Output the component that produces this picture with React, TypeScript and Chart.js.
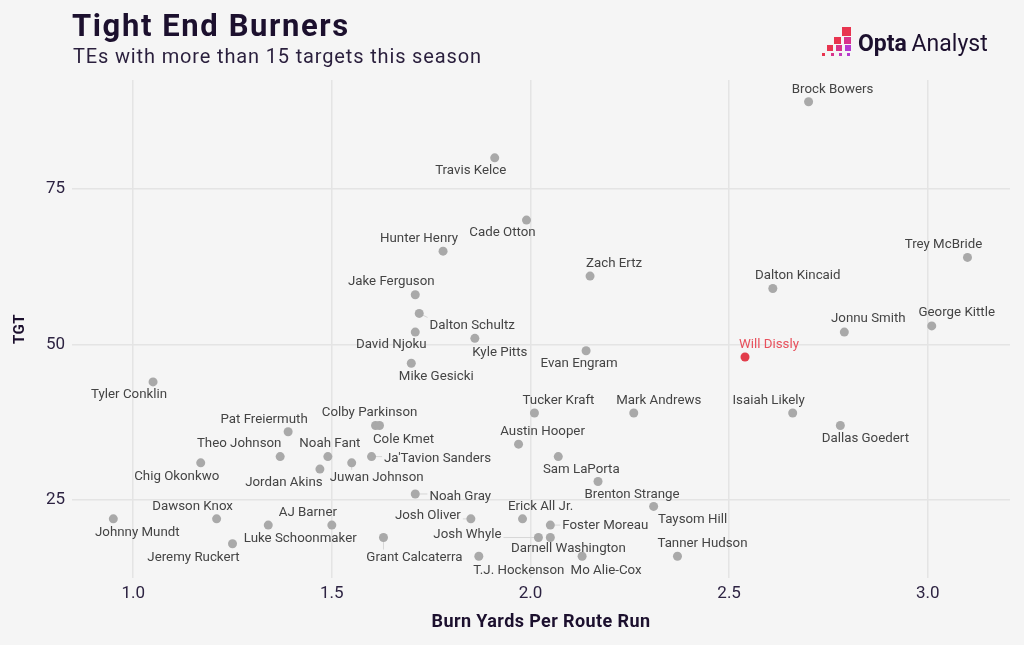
import React, { useEffect, useRef } from "react";
import { Chart, registerables } from "chart.js";

Chart.register(...registerables);

// ---- Data ----
const players = [
  "Brock Bowers", "Travis Kelce", "Cade Otton", "Hunter Henry", "Zach Ertz",
  "Jake Ferguson", "Dalton Schultz", "David Njoku", "Kyle Pitts", "Mike Gesicki",
  "Evan Engram", "Trey McBride", "Dalton Kincaid", "Jonnu Smith", "George Kittle",
  "Will Dissly", "Isaiah Likely", "Dallas Goedert", "Tyler Conklin", "Pat Freiermuth",
  "Theo Johnson", "Noah Fant", "Jordan Akins", "Juwan Johnson", "Chig Okonkwo",
  "Dawson Knox", "Johnny Mundt", "AJ Barner", "Luke Schoonmaker", "Jeremy Ruckert",
  "Tucker Kraft", "Mark Andrews", "Colby Parkinson", "Cole Kmet", "Ja'Tavion Sanders",
  "Austin Hooper", "Sam LaPorta", "Brenton Strange", "Noah Gray", "Erick All Jr.",
  "Josh Oliver", "Foster Moreau", "Josh Whyle", "Darnell Washington", "Grant Calcaterra",
  "T.J. Hockenson", "Mo Alie-Cox", "Taysom Hill", "Tanner Hudson",
];

const burnYardsPerRoute = [
  2.70, 1.91, 1.99, 1.78, 2.15,
  1.71, 1.72, 1.71, 1.86, 1.70,
  2.14, 3.10, 2.61, 2.79, 3.01,
  2.54, 2.66, 2.78, 1.05, 1.39,
  1.37, 1.49, 1.47, 1.55, 1.17,
  1.21, 0.95, 1.50, 1.34, 1.25,
  2.01, 2.26, 1.61, 1.62, 1.60,
  1.97, 2.07, 2.17, 1.71, 1.98,
  1.85, 2.05, 2.02, 2.05, 1.63,
  1.87, 2.13, 2.31, 2.37,
];

const targets = [
  89, 80, 70, 65, 61,
  58, 55, 52, 51, 47,
  49, 64, 59, 52, 53,
  48, 39, 37, 44, 36,
  32, 32, 30, 31, 31,
  22, 22, 21, 21, 18,
  39, 39, 37, 37, 32,
  34, 32, 28, 26, 22,
  22, 21, 19, 19, 19,
  16, 16, 24, 16,
];

const highlighted = ["Will Dissly"];

const xTickValues = [1.0, 1.5, 2.0, 2.5, 3.0];
const yTickValues = [25, 50, 75];

// label placement offsets (pixels, relative to point centre)
const labelDx = [
  24, -24, -24, -24, 24,
  -24, 53, -24, 25, 25,
  -7, -24, 25, 24, 25,
  24, -24, 25, -24, -24,
  -41, 2, -36, 25, -24,
  -24, 24, -24, 32, -39,
  24, 25, -6, 24, 66,
  24, 23, 34, 45, 18,
  -43, 55, -71, 18, 31,
  40, 24, 39, 25,
];
const labelDy = [
  -12, 13, 13, -13, -12,
  -13, 12, 13, 14, 13,
  13, -13, -13, -13, -13,
  -12, -12, 13, 13, -12,
  -13, -13, 14, 15, 14,
  -12, 14, -12, 14, 14,
  -12, -12, -13, 14, 2,
  -12, 13, 13, 3, -12,
  -3, 1, -3, 11, 20,
  14, 14, 13, -13,
];

// ---- Styles ----
const BG = "#f5f5f5";
const GRID = "#e4e4e4";
const POINT = "#a9a9a9";
const RED = "#e23d4b";
const LABEL = "#444444";
const DARK = "#1c102e";
const TICK = "#2d2342";

const labelPlugin = {
  id: "customLabels",
  beforeDraw(chart: any) {
    const { ctx } = chart;
    ctx.save();
    ctx.fillStyle = BG;
    ctx.fillRect(0, 0, chart.width, chart.height);
    ctx.restore();
  },
  beforeDatasetsDraw(chart: any) {
    const { ctx } = chart;
    const meta = chart.getDatasetMeta(0);
    ctx.save();
    ctx.font = "13.3px Roboto";
    ctx.strokeStyle = "#d6d6d6";
    ctx.lineWidth = 1;
    meta.data.forEach((pt: any, i: number) => {
      const name = players[i];
      const w = ctx.measureText(name).width;
      const cx = pt.x + labelDx[i];
      const cy = pt.y + labelDy[i];
      const x0 = cx - w / 2 - 2, x1 = cx + w / 2 + 2;
      const y0 = cy - 8, y1 = cy + 8;
      const nx = Math.max(x0, Math.min(pt.x, x1));
      const ny = Math.max(y0, Math.min(pt.y, y1));
      const d = Math.hypot(nx - pt.x, ny - pt.y);
      if (d > 6) {
        ctx.beginPath();
        ctx.moveTo(pt.x, pt.y);
        ctx.lineTo(nx, ny);
        ctx.stroke();
      }
    });
    ctx.restore();
  },
  afterDatasetsDraw(chart: any) {
    const { ctx } = chart;
    const meta = chart.getDatasetMeta(0);
    ctx.save();
    ctx.font = "13.3px Roboto";
    ctx.textAlign = "center";
    ctx.textBaseline = "middle";
    meta.data.forEach((pt: any, i: number) => {
      const name = players[i];
      ctx.fillStyle = highlighted.includes(name) ? "#e8505c" : LABEL;
      ctx.fillText(name, pt.x + labelDx[i], pt.y + labelDy[i]);
    });
    ctx.restore();
  },
  afterDraw(chart: any) {
    const { ctx, chartArea } = chart;
    ctx.save();
    // Title + subtitle
    ctx.textAlign = "left";
    ctx.textBaseline = "alphabetic";
    ctx.fillStyle = DARK;
    ctx.font = "bold 31px Roboto";
    ctx.letterSpacing = "1.6px";
    ctx.fillText("Tight End Burners", 72, 36);
    ctx.fillStyle = "#2a1f3d";
    ctx.font = "20px Roboto";
    ctx.letterSpacing = "0.85px";
    ctx.fillText("TEs with more than 15 targets this season", 73, 63);

    // Axis titles
    ctx.fillStyle = DARK;
    ctx.font = "bold 18px Roboto";
    ctx.letterSpacing = "0.4px";
    ctx.textAlign = "center";
    ctx.textBaseline = "middle";
    ctx.fillText("Burn Yards Per Route Run", 541, 622);
    ctx.save();
    ctx.translate(20, (chartArea.top + chartArea.bottom) / 2);
    ctx.rotate(-Math.PI / 2);
    ctx.font = "bold 15px Roboto";
    ctx.letterSpacing = "0.5px";
    ctx.fillText("TGT", 0, 0);
    ctx.restore();
    ctx.letterSpacing = "0px";

    // Logo squares
    const sq: [number, number, number, string][] = [
      [842, 27, 9, "#e8344f"],
      [834, 37, 7, "#e8344f"],
      [844, 37, 7, "#d9338a"],
      [827, 45, 6, "#e8344f"],
      [836, 45, 6, "#d9338a"],
      [845, 45, 6, "#b63bd0"],
      [822, 53, 3, "#e8344f"],
      [831, 53, 3, "#d9338a"],
      [839, 53, 3, "#c43aba"],
      [847, 53, 3, "#b63bd0"],
    ];
    sq.forEach(([x, y, s, c]) => {
      ctx.fillStyle = c;
      ctx.fillRect(x, y, s, s);
    });
    ctx.textAlign = "left";
    ctx.textBaseline = "alphabetic";
    ctx.fillStyle = DARK;
    ctx.font = "bold 23px Roboto";
    ctx.fillText("Opta", 858, 51);
    const ow = ctx.measureText("Opta ").width;
    ctx.font = "23px Roboto";
    ctx.fillText("Analyst", 858 + ow - 1, 51);
    ctx.restore();
  },
};

export default function App() {
  const ref = useRef<HTMLCanvasElement>(null);
  useEffect(() => {
    document.body.style.margin = "0";
    const canvas = ref.current!;
    const chart = new Chart(canvas, {
      type: "scatter",
      data: {
        datasets: [
          {
            data: burnYardsPerRoute.map((x, i) => ({ x, y: targets[i] })),
            backgroundColor: players.map((p) => (highlighted.includes(p) ? RED : POINT)),
            borderWidth: 0,
            pointRadius: 4.5,
            pointHoverRadius: 4.5,
          },
        ],
      },
      options: {
        animation: false,
        responsive: false,
        events: [],
        layout: { padding: { top: 80, right: 14, left: 0, bottom: 0 } },
        plugins: { legend: { display: false }, tooltip: { enabled: false } },
        scales: {
          x: {
            type: "linear",
            min: 0.846,
            max: 3.207,
            afterFit: (s: any) => {
              s.height = 67;
            },
            afterBuildTicks: (s: any) => {
              s.ticks = xTickValues.map((v) => ({ value: v }));
            },
            grid: { color: GRID, lineWidth: 1.5, drawTicks: false },
            border: { display: false },
            ticks: {
              padding: 6,
              color: TICK,
              font: { family: "Roboto", size: 17 },
              callback: (v: any) => Number(v).toFixed(1),
            },
          },
          y: {
            type: "linear",
            min: 12.5,
            max: 92.5,
            afterFit: (s: any) => {
              s.width = 72;
            },
            afterBuildTicks: (s: any) => {
              s.ticks = yTickValues.map((v) => ({ value: v }));
            },
            grid: { color: GRID, lineWidth: 1.5, drawTicks: false },
            border: { display: false },
            ticks: {
              padding: 7,
              color: TICK,
              font: { family: "Roboto", size: 17 },
              callback: (v: any) => String(v),
            },
          },
        },
      },
      plugins: [labelPlugin],
    });
    return () => chart.destroy();
  }, []);
  return (
    <div style={{ width: 1024, height: 645, background: BG }}>
      <canvas ref={ref} width={1024} height={645} style={{ display: "block" }} />
    </div>
  );
}
